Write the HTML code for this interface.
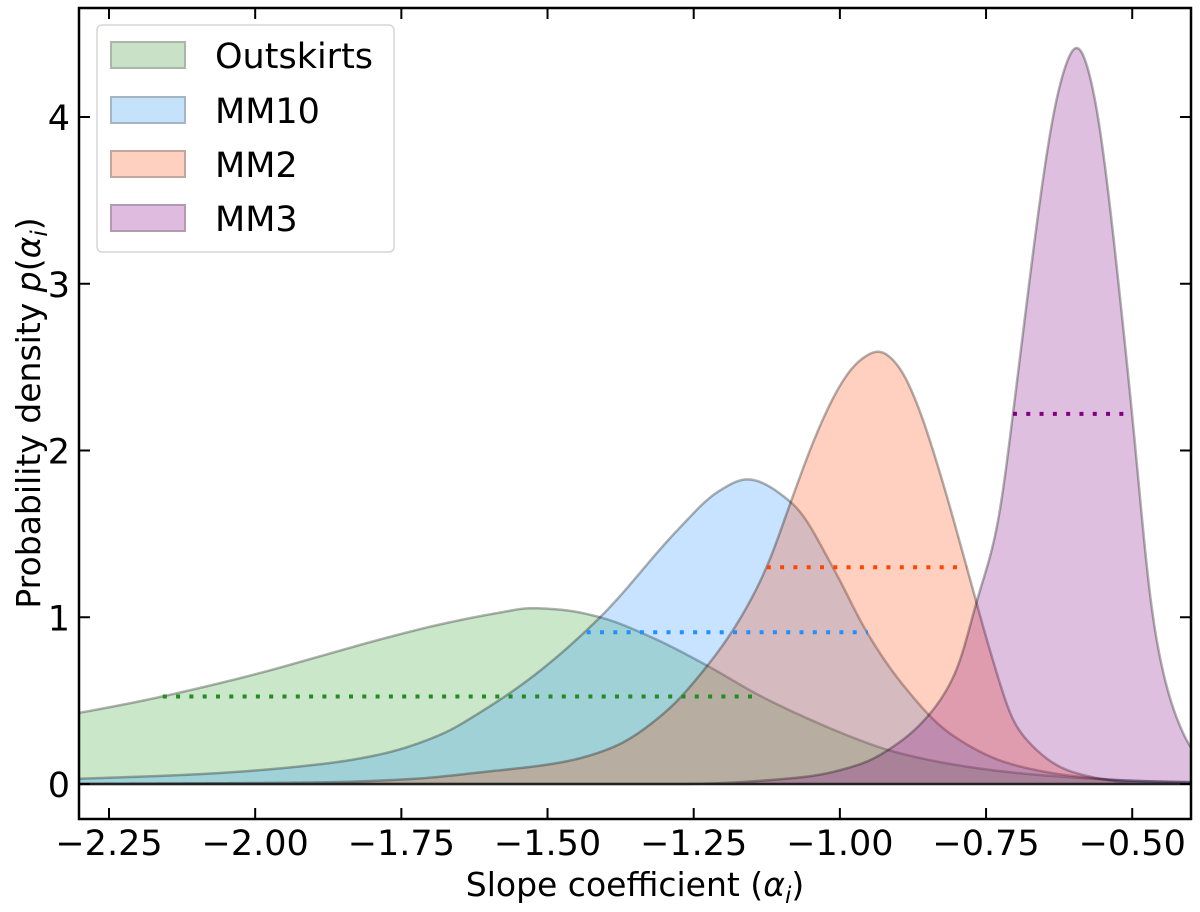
<!DOCTYPE html>
<html><head><meta charset="utf-8"><style>
html,body{margin:0;padding:0;background:#fff;}
svg{display:block;font-family:"DejaVu Sans","Liberation Sans",sans-serif;}
</style></head><body>
<svg id="chart" width="1200" height="912" viewBox="0 0 1200 912" xmlns="http://www.w3.org/2000/svg">
<g id="fills"></g>
<g id="medians"></g>
<g id="axes"></g>
<text x="635" y="896" font-size="33" text-anchor="middle">Slope coefficient (<tspan font-style="italic">α</tspan><tspan font-style="italic" font-size="23" dy="7">i</tspan><tspan dy="-7">)</tspan></text>
<text transform="translate(40,413) rotate(-90)" font-size="33" text-anchor="middle">Probability density <tspan font-style="italic">p</tspan>(<tspan font-style="italic">α</tspan><tspan font-style="italic" font-size="23" dy="7">i</tspan><tspan dy="-7">)</tspan></text>
<g>
<rect x="97" y="25" width="297" height="227" rx="5" fill="#fff" fill-opacity="0.85" stroke="#d6d6d6" stroke-width="1.5"/>
<g><rect x="111" y="42" width="74" height="26" fill="#c9e1c6" stroke="#a9b8a6" stroke-width="2"/><text x="215" y="68" font-size="35">Outskirts</text></g>
<g><rect x="111" y="97" width="74" height="26" fill="#c5e2fb" stroke="#a5b5c4" stroke-width="2"/><text x="215" y="123" font-size="35">MM10</text></g>
<g><rect x="111" y="151" width="74" height="26" fill="#fdd0c0" stroke="#c0a89e" stroke-width="2"/><text x="215" y="177" font-size="35">MM2</text></g>
<g><rect x="111" y="205" width="74" height="26" fill="#dfbbdf" stroke="#b29ab2" stroke-width="2"/><text x="215" y="231" font-size="35">MM3</text></g>
</g>
</svg>
<script>
const outskirtsX=[-2.31,-2.192,-2.09,-1.987,-1.885,-1.783,-1.68,-1.578,-1.53,-1.476,-1.41,-1.322,-1.227,-1.137,-1.066,-0.964,-0.914,-0.811,-0.708,-0.606,-0.504,-0.39];
const outskirtsY=[0.42,0.50,0.58,0.67,0.77,0.87,0.96,1.03,1.055,1.045,1.00,0.88,0.71,0.53,0.41,0.26,0.20,0.12,0.07,0.04,0.02,0.01];
const mm10X=[-2.31,-2.09,-1.885,-1.783,-1.68,-1.615,-1.527,-1.41,-1.273,-1.21,-1.159,-1.08,-1.012,-0.954,-0.898,-0.811,-0.708,-0.606,-0.504,-0.39];
const mm10Y=[0.03,0.06,0.12,0.18,0.30,0.43,0.64,1.00,1.54,1.75,1.83,1.68,1.30,0.91,0.62,0.30,0.12,0.05,0.02,0.01];
const mm2X=[-2.31,-1.885,-1.732,-1.615,-1.476,-1.388,-1.302,-1.222,-1.169,-1.125,-1.08,-1.04,-1.0,-0.97,-0.933,-0.9,-0.87,-0.83,-0.783,-0.739,-0.698,-0.601,-0.504,-0.39];
const mm2Y=[0,0.01,0.03,0.07,0.13,0.22,0.42,0.73,1.0,1.30,1.73,2.10,2.39,2.53,2.6,2.51,2.30,1.88,1.30,0.75,0.34,0.07,0.01,0];
const mm3X=[-2.31,-1.271,-1.066,-0.964,-0.898,-0.851,-0.80,-0.766,-0.73,-0.704,-0.675,-0.65,-0.625,-0.594,-0.565,-0.54,-0.52,-0.5,-0.486,-0.47,-0.435,-0.39];
const mm3Y=[0,0,0.04,0.12,0.25,0.40,0.68,1.10,1.54,2.22,3.04,3.70,4.19,4.45,4.15,3.53,2.89,2.22,1.70,1.10,0.5,0.13];
const medianY=[0.525,0.91,1.30,2.22];
const medianLo=[-2.158,-1.433,-1.125,-0.704];
const medianHi=[-1.137,-0.952,-0.783,-0.500];
const seriesNames=["outskirts","mm10","mm2","mm3"];
const xTicks=[-2.25,-2.0,-1.75,-1.5,-1.25,-1.0,-0.75,-0.5];
const xTickLabels=["\u22122.25","\u22122.00","\u22121.75","\u22121.50","\u22121.25","\u22121.00","\u22120.75","\u22120.50"];
const yTicks=[0,1,2,3,4];
const yTickLabels=["0","1","2","3","4"];

const L=79,R=1191,T=8,B=819;
const sx=v=>109+(v+2.25)*584.7;
const sy=v=>784-v*166.75;
const NS="http://www.w3.org/2000/svg";
function mk(tag,attrs,parent){const e=document.createElementNS(NS,tag);for(const k in attrs)e.setAttribute(k,attrs[k]);parent.appendChild(e);return e;}

function monotone(xa,ya){
  const n=xa.length,d=[],m=new Array(n);
  for(let i=0;i<n-1;i++)d.push((ya[i+1]-ya[i])/(xa[i+1]-xa[i]));
  m[0]=d[0];m[n-1]=d[n-2];
  for(let i=1;i<n-1;i++){
    if(d[i-1]*d[i]<=0)m[i]=0;
    else{const h0=xa[i]-xa[i-1],h1=xa[i+1]-xa[i];const w1=2*h1+h0,w2=h1+2*h0;m[i]=(w1+w2)/(w1/d[i-1]+w2/d[i]);}
  }
  return function(x){
    let i=0;while(i<n-2&&x>xa[i+1])i++;
    const h=xa[i+1]-xa[i],t=(x-xa[i])/h,t2=t*t,t3=t2*t;
    return (2*t3-3*t2+1)*ya[i]+(t3-2*t2+t)*h*m[i]+(-2*t3+3*t2)*ya[i+1]+(t3-t2)*h*m[i+1];
  };
}
// light gaussian smoothing of the sampled curve (rendering only)
function smooth(vals,sig){
  const out=[],r=Math.ceil(sig*3);
  for(let i=0;i<vals.length;i++){
    let s=0,w=0;
    for(let j=-r;j<=r;j++){const k=i+j;if(k<0||k>=vals.length)continue;const ww=Math.exp(-0.5*j*j/(sig*sig));s+=ww*vals[k];w+=ww;}
    out.push(s/w);
  }
  return out;
}

const fills=["#2ca02c","#1e90ff","#ff4500","#800080"];
const dots=["#228b22","#1e90ff","#ff4500","#800080"];
const xs=[outskirtsX,mm10X,mm2X,mm3X], ys=[outskirtsY,mm10Y,mm2Y,mm3Y];
const gF=document.getElementById('fills');
const clip=mk('clipPath',{id:'pc'},document.getElementById('chart'));
mk('rect',{x:L,y:T,width:R-L,height:B-T},clip);
gF.setAttribute('clip-path','url(#pc)');
for(let s=0;s<4;s++){
  const f=monotone(xs[s],ys[s]);
  const x0=xs[s][0],x1=xs[s][xs[s].length-1];
  const N=1000,gx=[],gy=[];
  for(let k=0;k<=N;k++){const x=x0+(x1-x0)*k/N;gx.push(x);gy.push(Math.max(0,f(x)));}
  const sy2=smooth(gy,5);
  const pts=gx.map((x,k)=>sx(x).toFixed(2)+','+sy(sy2[k]).toFixed(2));
  const c='M'+pts.join(' L');
  const area=mk('path',{d:c+` L${sx(x1)},${sy(0)} L${sx(x0)},${sy(0)} Z`,fill:fills[s],'fill-opacity':0.25,stroke:'none'},gF);
  
  
  const ln=mk('path',{d:c,fill:'none',stroke:'#000','stroke-opacity':0.3,'stroke-width':2.5},gF);
  
  
}
const gM=document.getElementById('medians');
for(let s=0;s<4;s++){
  const m=mk('line',{x1:sx(medianLo[s]),x2:sx(medianHi[s]),y1:sy(medianY[s]),y2:sy(medianY[s]),stroke:dots[s],'stroke-width':4,'stroke-dasharray':'4 9.3'},gM);
  
  
}
const gA=document.getElementById('axes');
const z=mk('line',{x1:L,x2:R,y1:sy(0),y2:sy(0),stroke:'#222','stroke-width':2.5},gA);


xTicks.forEach((v,i)=>{
  const x=sx(v);
  mk('line',{x1:x,x2:x,y1:B,y2:B-11,stroke:'#000','stroke-width':2},gA);
  mk('line',{x1:x,x2:x,y1:T,y2:T+11,stroke:'#000','stroke-width':2},gA);
  const t=mk('text',{x:x,y:855,'font-size':35,'text-anchor':'middle'},gA);
  t.textContent=xTickLabels[i];
  
  
});
yTicks.forEach((v,i)=>{
  const y=sy(v);
  mk('line',{x1:L,x2:L+11,y1:y,y2:y,stroke:'#000','stroke-width':2},gA);
  mk('line',{x1:R,x2:R-11,y1:y,y2:y,stroke:'#000','stroke-width':2},gA);
  const t=mk('text',{x:70,y:y+13,'font-size':35,'text-anchor':'end'},gA);
  t.textContent=yTickLabels[i];
  
  
});
const fr=mk('rect',{x:L,y:T,width:R-L,height:B-T,fill:'none',stroke:'#000','stroke-width':2.5},gA);


</script>
</body></html>
